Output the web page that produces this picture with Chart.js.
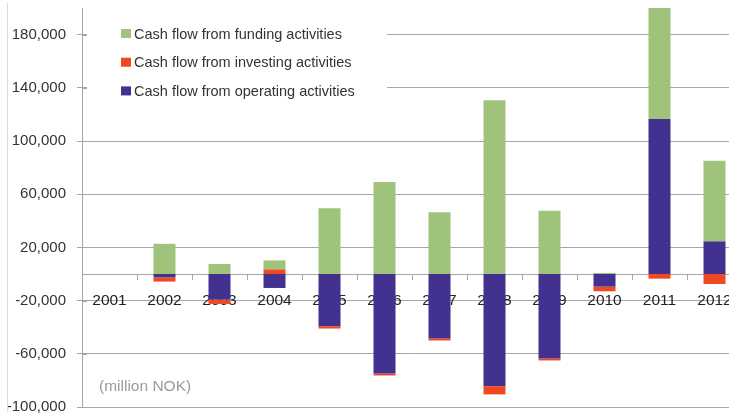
<!DOCTYPE html>
<html>
<head>
<meta charset="utf-8">
<script src="https://cdn.jsdelivr.net/npm/chart.js@4/dist/chart.umd.min.js"></script>
<style>
  html, body { margin: 0; padding: 0; background: #fff; overflow: hidden; }
  #wrap { width: 729px; height: 416px; overflow: hidden; position: relative; }
  canvas { display: block; }
</style>
</head>
<body>
<div id="wrap"><canvas id="c" width="742" height="416"></canvas></div>
<script>
// ---- Data (million NOK) ----
const years = ['2001','2002','2003','2004','2005','2006','2007','2008','2009','2010','2011','2012'];
const operating = [0, -2500, -19300, -10500, -39300, -74800, -48500, -84300, -63500, -9500, 116500, 24500];
const investing = [0, -3200, -3200, 3450, -1700, -1500, -1500, -6200, -1500, -3500, -3500, -7500];
const funding   = [0, 22700, 7500, 6750, 49500, 69200, 46500, 130700, 47500, 800, 88000, 60700];
const yTicks = [-100000, -60000, -20000, 20000, 60000, 100000, 140000, 180000];
const unitNote = '(million NOK)';

const FONT = "'Liberation Sans', Arial, Helvetica, sans-serif";
Chart.defaults.font.family = FONT;

const GRID = '#a6a6a6';

const noSidePadding = scale => { scale.paddingLeft = 0; scale.paddingRight = 0; };

const overlay = {
  id: 'overlay',
  beforeDatasetsDraw(chart) {
    const ctx = chart.ctx;
    const ys = chart.scales.y;
    const left = chart.chartArea.left;
    ctx.save();
    // faint frame line at the left edge
    ctx.strokeStyle = '#dcdcdc';
    ctx.lineWidth = 1;
    ctx.beginPath();
    ctx.moveTo(7.5, 3);
    ctx.lineTo(7.5, 412);
    ctx.stroke();
    // tick marks crossing the y axis
    ctx.strokeStyle = GRID;
    ys.ticks.forEach(t => {
      const py = Math.round(ys.getPixelForValue(t.value)) + 0.5;
      ctx.beginPath();
      ctx.moveTo(left, py);
      ctx.lineTo(left + 5, py);
      ctx.stroke();
    });
    // legend background hiding gridlines
    ctx.fillStyle = '#ffffff';
    ctx.fillRect(87, 12, 300, 96);
    // legend entries in reverse dataset order
    const ds = chart.data.datasets.slice().reverse();
    ctx.font = '14.5px ' + FONT;
    ctx.textBaseline = 'middle';
    ctx.textAlign = 'left';
    ds.forEach((d, i) => {
      const cy = 33.5 + i * 28.7;
      ctx.fillStyle = d.backgroundColor;
      ctx.fillRect(121, cy - 4.5, 10, 9);
      ctx.fillStyle = '#333333';
      ctx.fillText(d.label, 134, cy + 1);
    });
    // unit note
    ctx.font = '15.5px ' + FONT;
    ctx.fillStyle = '#9a9a9a';
    ctx.fillText(unitNote, 99, 387);
    ctx.restore();
  }
};

new Chart(document.getElementById('c'), {
  type: 'bar',
  data: {
    labels: years,
    datasets: [
      { label: 'Cash flow from operating activities', data: operating, backgroundColor: '#43318f' },
      { label: 'Cash flow from investing activities', data: investing, backgroundColor: '#ef4923' },
      { label: 'Cash flow from funding activities', data: funding, backgroundColor: '#9fc37a' }
    ]
  },
  options: {
    responsive: false,
    animation: false,
    layout: { padding: { top: 8, bottom: 9, left: 0, right: 0 } },
    datasets: { bar: { categoryPercentage: 1, barPercentage: 0.4, borderWidth: 0 } },
    plugins: { legend: { display: false }, tooltip: { enabled: false } },
    scales: {
      x: {
        stacked: true,
        position: { y: 0 },
        afterFit: noSidePadding,
        grid: { drawOnChartArea: false, drawTicks: true, tickLength: 5, color: GRID, offset: true },
        border: { display: true, color: GRID, width: 1 },
        ticks: { display: false }
      },
      x2: {
        type: 'category',
        labels: years,
        position: { y: 0 },
        z: 1,
        offset: true,
        afterFit: noSidePadding,
        grid: { display: false, drawTicks: false },
        border: { display: false },
        ticks: { display: true, color: '#222222', padding: 17, maxRotation: 0, autoSkip: false, font: { size: 15.5 } }
      },
      y: {
        stacked: true,
        min: -100000,
        max: 200000,
        afterBuildTicks(scale) { scale.ticks = yTicks.map(v => ({ value: v })); },
        afterFit(scale) { scale.width = 82; scale.paddingTop = 0; scale.paddingBottom = 0; },
        grid: { color: GRID, tickLength: 5, drawTicks: true },
        border: { display: true, color: GRID, width: 1 },
        ticks: {
          color: '#333333',
          padding: 11,
          font: { size: 15 },
          callback: v => Number(v).toLocaleString('en-US')
        }
      }
    }
  },
  plugins: [overlay]
});
</script>
</body>
</html>
